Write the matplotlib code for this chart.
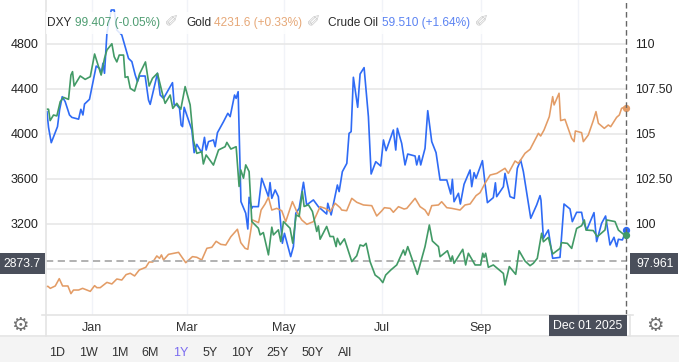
import matplotlib
matplotlib.use("Agg")
import matplotlib.pyplot as plt
from matplotlib.patches import Rectangle
from matplotlib.lines import Line2D

plt.rcParams["font.family"] = ["Liberation Sans", "DejaVu Sans"]

W, H = 679, 362

# days counted from Jan 1 2025
gold_days = [-29, -27.7, -26.2, -23.1, -20.6, -18.5, -15.2, -13.3, -11.7, -8.5, -6, -1.2, 1.5, 2.9, 5, 9.2, 12.3, 15.4, 18.5, 21.2, 23.8, 26.5, 29.4, 33.5, 35.6, 37.9, 40.4, 42.1, 43.3, 44.6, 47.7, 50.8, 54, 58.5, 62.7, 65.4, 68.5, 71.7, 74.8, 77.5, 80.4, 83.5, 86.7, 90.8, 92.9, 95.6, 97.3, 100.2, 104, 105.6, 108.1, 110.2, 112.3, 115.4, 118.5, 121, 125.2, 127.9, 131, 134.2, 138.3, 142.5, 145.6, 148.8, 151.9, 155, 156, 159.1, 162.3, 165.4, 169.6, 174.8, 177.9, 181, 182.7, 186.3, 188.3, 191.5, 195, 196.7, 201.9, 205, 208.1, 210.2, 212.3, 216.5, 218.5, 221.7, 224.8, 230, 233.1, 236.3, 240, 242.5, 245.6, 248.8, 253, 258.1, 260.2, 264.4, 266.5, 270.6, 273.8, 279, 280.4, 282.5, 285.8, 287.9, 288.8, 291.9, 292.9, 295.6, 299.8, 301.3, 302.1, 306, 307.1, 310.2, 313.3, 315, 316.5, 320.2, 322.7, 324.2, 327.9, 329.6, 331, 333.5, 334]
gold_vals = [2643, 2646, 2628, 2649, 2714, 2649, 2649, 2581, 2613, 2613, 2628, 2601, 2652, 2634, 2634, 2681, 2667, 2711, 2702, 2750, 2762, 2738, 2791, 2815, 2862, 2862, 2916, 2895, 2925, 2880, 2930, 2939, 2948, 2856, 2910, 2904, 2880, 2984, 2993, 3046, 3019, 3013, 3087, 3153, 3034, 2984, 2975, 3236, 3212, 3324, 3378, 3437, 3324, 3339, 3318, 3221, 3399, 3310, 3236, 3197, 3221, 3354, 3339, 3310, 3384, 3345, 3324, 3318, 3428, 3393, 3369, 3363, 3271, 3316, 3345, 3339, 3304, 3354, 3333, 3339, 3428, 3354, 3324, 3277, 3363, 3369, 3398, 3345, 3339, 3324, 3369, 3378, 3452, 3478, 3561, 3635, 3650, 3695, 3650, 3760, 3739, 3828, 3864, 4006, 3982, 4035, 4154, 4332, 4258, 4362, 4119, 4130, 3961, 3932, 4027, 4012, 3932, 3991, 4119, 4199, 4095, 4050, 4080, 4065, 4148, 4169, 4228, 4243, 4231.6]

dxy_days = [-28.8, -27.3, -26.3, -24.2, -22.1, -20, -17.9, -14.8, -13.3, -12.3, -11.3, -7.5, -4.4, -1.2, 1.5, 4.6, 5.6, 7.7, 9.2, 12.3, 13.75, 15.4, 16.9, 19.6, 20.6, 22.3, 23.8, 26.5, 29.6, 33.3, 35.6, 37.7, 40.8, 44.1, 45.6, 48.75, 50.4, 52.9, 55.4, 58.1, 61.25, 63.3, 65.4, 68.5, 69.5, 71.25, 75.8, 79, 83.1, 84.2, 86.7, 90, 91.85, 92.9, 94.6, 96, 98.1, 99.8, 103.9, 105, 107, 110.2, 112.3, 113.3, 116.4, 117.9, 119.6, 123.7, 125.4, 127.5, 129.4, 131.4, 132.5, 135.2, 137.7, 140.4, 141.4, 142.5, 146.6, 148.7, 150.8, 152.5, 153.3, 155, 157.7, 162.3, 165.4, 167.5, 169.6, 171.25, 173.75, 176.9, 179.6, 181.7, 183.5, 186.7, 190.4, 194.6, 195.6, 197.3, 203.3, 208.1, 210.8, 212.7, 216.5, 217.5, 222.1, 224.2, 225.2, 226.25, 231.7, 233.5, 235.2, 239.4, 242.9, 244.2, 245, 246, 247.7, 250.8, 254.6, 257.1, 258.1, 260.8, 264.8, 266.9, 270.6, 273.75, 275.8, 278.3, 281, 282.1, 285.2, 287.9, 292.5, 293.5, 297.1, 299.8, 302.9, 306, 307.7, 308.75, 313.3, 315.8, 320.6, 321.7, 326.9, 329, 332, 334]
dxy_vals = [106.38, 106.37, 105.74, 106.05, 106.0, 106.79, 107.03, 106.92, 108.27, 108.46, 107.66, 108.22, 108.03, 108.18, 109.44, 108.55, 108.27, 109.2, 109.66, 110.01, 109.29, 109.0, 109.38, 109.38, 108.14, 108.18, 107.53, 107.38, 108.33, 109.0, 107.66, 108.09, 108.37, 107.16, 106.7, 107.16, 106.42, 106.7, 106.37, 107.63, 106.61, 104.66, 103.92, 104.01, 103.33, 103.83, 103.27, 104.11, 104.29, 104.53, 104.16, 104.29, 102.08, 103.0, 102.54, 103.28, 102.91, 100.13, 99.76, 99.39, 99.52, 98.28, 99.82, 99.39, 99.67, 99.02, 100.13, 99.76, 98.93, 100.5, 100.41, 101.8, 100.97, 101.06, 100.69, 99.58, 99.89, 99.15, 99.86, 99.3, 99.3, 98.74, 99.2, 98.84, 99.17, 97.91, 98.23, 98.83, 98.77, 98.92, 97.9, 97.16, 96.98, 96.74, 97.16, 97.44, 97.72, 98.55, 98.27, 98.74, 97.2, 98.74, 99.94, 99.05, 98.74, 98.18, 98.51, 97.94, 98.22, 97.81, 98.59, 97.72, 98.37, 97.72, 97.72, 98.37, 98.14, 98.37, 97.59, 97.72, 97.44, 97.25, 96.61, 97.63, 97.2, 98.51, 97.94, 97.68, 97.81, 98.09, 99.48, 99.01, 99.25, 98.33, 98.64, 98.96, 98.92, 98.64, 99.75, 99.9, 100.22, 99.66, 99.63, 99.29, 99.66, 100.22, 100.13, 99.66, 99.44, 99.407]

oil_days = [-28.3, -27.3, -25.6, -21.7, -20.4, -18.75, -16.9, -14.2, -12.7, -8.5, -7.1, -5.8, -4.8, -1.7, 2.5, 4.6, 5.6, 6.7, 7.7, 9.2, 11.9, 13.75, 15.4, 18.5, 22.7, 24.8, 26.9, 28.3, 29.6, 33.1, 35.2, 36.25, 40.8, 42.5, 44.6, 50.2, 51.25, 52.9, 54.6, 55.6, 56.5, 57.5, 62.3, 63.75, 65.4, 68.5, 70.2, 71.25, 72.7, 75.8, 76.9, 78.3, 82.1, 84.8, 86.25, 89, 90, 91.25, 92, 93, 96, 97.3, 98.1, 99.8, 100.2, 103.9, 106, 110.2, 111.2, 112.3, 114.4, 116.4, 118.9, 120.2, 124.1, 125.8, 127.3, 129.4, 132.1, 134.1, 138.3, 141.4, 146.6, 147.3, 149.4, 151.8, 153.3, 154.4, 156.4, 159.2, 160.6, 161.9, 163.3, 166, 167.5, 170, 172.7, 174.4, 177.3, 180.4, 182.1, 183.75, 188.3, 189.8, 190.8, 193.5, 195.6, 197.3, 201.9, 202.9, 204.4, 205.4, 208.1, 209.8, 212.3, 215, 217.5, 221.7, 224.2, 225.2, 226.25, 229, 230.2, 232.5, 236.25, 237.3, 238.75, 240, 244, 245.6, 247.1, 250.8, 252.1, 252.9, 257.1, 258.1, 261.25, 263.9, 265.8, 267.9, 269.6, 272.1, 274.2, 277.9, 280, 280.6, 282.1, 285.2, 287.9, 292.5, 295, 298.75, 300.2, 302.9, 306, 307.1, 309.2, 313.75, 315.4, 318.5, 321, 323.75, 326.25, 327.9, 329, 331.5, 334]
oil_vals = [70.77, 69.28, 67.82, 69.35, 70.93, 72.2, 71.73, 70.46, 70.23, 70.06, 71, 70.46, 71.5, 71.95, 75.12, 74.9, 74.36, 75.38, 74.43, 78.24, 80.46, 80.46, 78.55, 78.08, 75.85, 75.54, 74.27, 73.63, 74.17, 74.17, 71.89, 71.47, 74.43, 72.36, 72.04, 73.54, 71.41, 71.41, 71.09, 69.5, 69.35, 71.19, 69.03, 66.87, 67.66, 66.87, 68.33, 67.12, 67.92, 68.08, 67.44, 68.77, 69.82, 70.62, 70.3, 72.36, 72.04, 72.68, 68.08, 62.21, 61.1, 59.6, 62.62, 61.57, 61.73, 61.73, 64.43, 62.68, 64.02, 62.52, 63.32, 62.68, 58.24, 59.19, 56.97, 57.92, 61.1, 61.57, 64.05, 61.89, 62.37, 61.73, 61.03, 62.05, 60.94, 62.68, 63.79, 63.16, 65.06, 65.85, 68.71, 68.87, 74.05, 71.19, 74.36, 74.97, 70.3, 64.84, 66.01, 65.6, 68.08, 67.06, 69.03, 67.12, 69.19, 67.76, 65.7, 66.74, 66.55, 65.7, 66.58, 65.7, 67.28, 70.87, 67.92, 66.87, 64.27, 64.27, 62.93, 64.33, 62.2, 63, 61.98, 63.86, 65.22, 63.63, 64.97, 64.43, 66.11, 63.95, 62.11, 62.59, 64, 62.68, 63.63, 64.9, 62.68, 62.52, 65.38, 66.17, 65.06, 62.68, 60.62, 61.89, 62.78, 62.36, 58.71, 59.51, 56.81, 56.9, 61.98, 61.51, 60.3, 61.19, 61.19, 60.3, 59.51, 61.16, 58.4, 60.14, 60.84, 58.08, 58.81, 57.92, 58.62, 58.56, 59.51]

month_days = [0, 59, 120, 181, 243, 304]
month_labels = ["Jan", "Mar", "May", "Jul", "Sep", ""]
gold_ticks = [2800, 3200, 3600, 4000, 4400, 4800]
gold_tick_labels = ["", "3200", "3600", "4000", "4400", "4800"]
dxy_ticks = [97.5, 100, 102.5, 105, 107.5, 110]
dxy_tick_labels = ["", "100", "102.50", "105", "107.50", "110"]
range_labels = ["1D", "1W", "1M", "6M", "1Y", "5Y", "10Y", "25Y", "50Y", "All"]
range_x = [57, 88, 120, 150, 181, 210, 242, 277, 313, 345]

BLUE = "#2f6bf5"
GREEN = "#429a66"
ORANGE = "#e39c66"
GRID = "#e8e8e8"
DARK = "#4a4f5b"
TXT = "#2b2b2b"


def fx(px):
    return px / W


def fy(px):
    return 1 - px / H


fig = plt.figure(figsize=(W / 100, H / 100), dpi=100, facecolor="white")
ax = fig.add_axes([fx(45.5), fy(315), (626.7 - 45.5) / W, 315 / H])
ax2 = ax.twinx()
ax3 = ax.twinx()

ax.set_xlim(-29.2, 334.2)
ax.set_ylim(2391, 5191)
ax2.set_ylim(94.94, 112.44)
ax3.set_ylim(51.41, 81.41)

ax.set_xticks(month_days, month_labels)
ax.set_yticks(gold_ticks, gold_tick_labels)
ax2.set_yticks(dxy_ticks, dxy_tick_labels)
ax3.set_yticks([])
ax.grid(axis="y", color=GRID, lw=1.2)
ax.grid(axis="x", color="#f1f3f8", lw=1)
ax.set_axisbelow(True)
ax.tick_params(axis="y", length=0, pad=5, labelsize=9, labelcolor="#222222")
ax.tick_params(axis="x", length=0, pad=5, labelsize=9, labelcolor="#333333")
ax2.tick_params(axis="y", length=0, pad=6, labelsize=8.8, labelcolor="#222222")
for a in (ax, ax2, ax3):
    for s in a.spines.values():
        s.set_visible(False)
    a.patch.set_visible(False)

ax3.plot(oil_days, oil_vals, color=BLUE, lw=1.2, zorder=2)
ax3.scatter([334], [59.51], s=18, color=BLUE, zorder=5, clip_on=False)
ax2.set_zorder(ax3.get_zorder() + 1)
ax2.plot(dxy_days, dxy_vals, color=GREEN, lw=1.2, zorder=3)
ax2.scatter([334], [99.407], s=18, color=GREEN, zorder=5, clip_on=False)
ax4 = ax.twinx()
ax4.set_ylim(ax.get_ylim())
ax4.set_yticks([])
ax4.patch.set_visible(False)
for s in ax4.spines.values():
    s.set_visible(False)
ax4.plot(gold_days, gold_vals, color=ORANGE, lw=1.15, zorder=4)
ax4.scatter([334], [4231.6], s=18, color=ORANGE, zorder=5, clip_on=False)
ax4.axhline(2873.7, color="#ababab", lw=1.3, ls=(0, (4, 2.5)), zorder=6)
ax4.axvline(334, color="#666666", lw=1, ls=(0, (4, 2.5)), zorder=6, clip_on=False)

# frame lines, bottom bar
frame = [
    ((42, 633), (315, 315)),
    ((45.5, 45.5), (0, 336)),
    ((629.5, 629.5), (315, 336)),
    ((0, 679), (336, 336)),
]
for xs, ys in frame:
    fig.add_artist(Line2D([fx(x) for x in xs], [fy(y) for y in ys], color="#e4e4e4", lw=1.2))
fig.add_artist(Rectangle((0, 0), 1, fy(336.5), transform=fig.transFigure, color="#f4f4f4", lw=0))

# legend with its pale backing
fig.add_artist(Rectangle((fx(46), fy(34)), fx(446), 22 / H, transform=fig.transFigure, color="white", alpha=0.85, lw=0, zorder=8))
legend_items = [
    (47, "DXY", TXT), (75, "99.407 (-0.05%)", "#4f9d72"),
    (186, "Gold", TXT), (214, "4231.6 (+0.33%)", "#e6a878"),
    (328, "Crude Oil", TXT), (382, "59.510 (+1.64%)", "#5b83f2"),
]
for x, s, c in legend_items:
    fig.text(fx(x), fy(23), s, color=c, fontsize=8.6, va="center", ha="left", zorder=9)
for x in (173, 315, 483):
    fig.text(fx(x), fy(18), "\u270e", color="#c8c8c8", fontsize=12, family="DejaVu Sans", va="center", ha="center", rotation=90, zorder=9)

# value and date flags
flags = [
    (0, 253, 45, 21, "2873.7", 22.5, 264),
    (630, 253, 48, 21, "97.961", 655, 264),
    (549, 315, 78, 21, "Dec 01 2025", 588, 326),
]
for x, y, w, h, s, tx, ty in flags:
    fig.add_artist(Rectangle((fx(x), fy(y + h)), w / W, h / H, transform=fig.transFigure, color=DARK, lw=0, zorder=10))
    fig.text(fx(tx), fy(ty), s, color="white", fontsize=8.8, ha="center", va="center", zorder=11)

for x in (20, 655):
    fig.text(fx(x), fy(325.5), "\u2699", color="#707070", fontsize=14, family="DejaVu Sans", ha="center", va="center")

for x, s in zip(range_x, range_labels):
    c = "#7b6cf0" if s == "1Y" else "#333333"
    fig.text(fx(x), fy(352.5), s, color=c, fontsize=9, ha="center", va="center")

fig.savefig("out.png", dpi=100)
